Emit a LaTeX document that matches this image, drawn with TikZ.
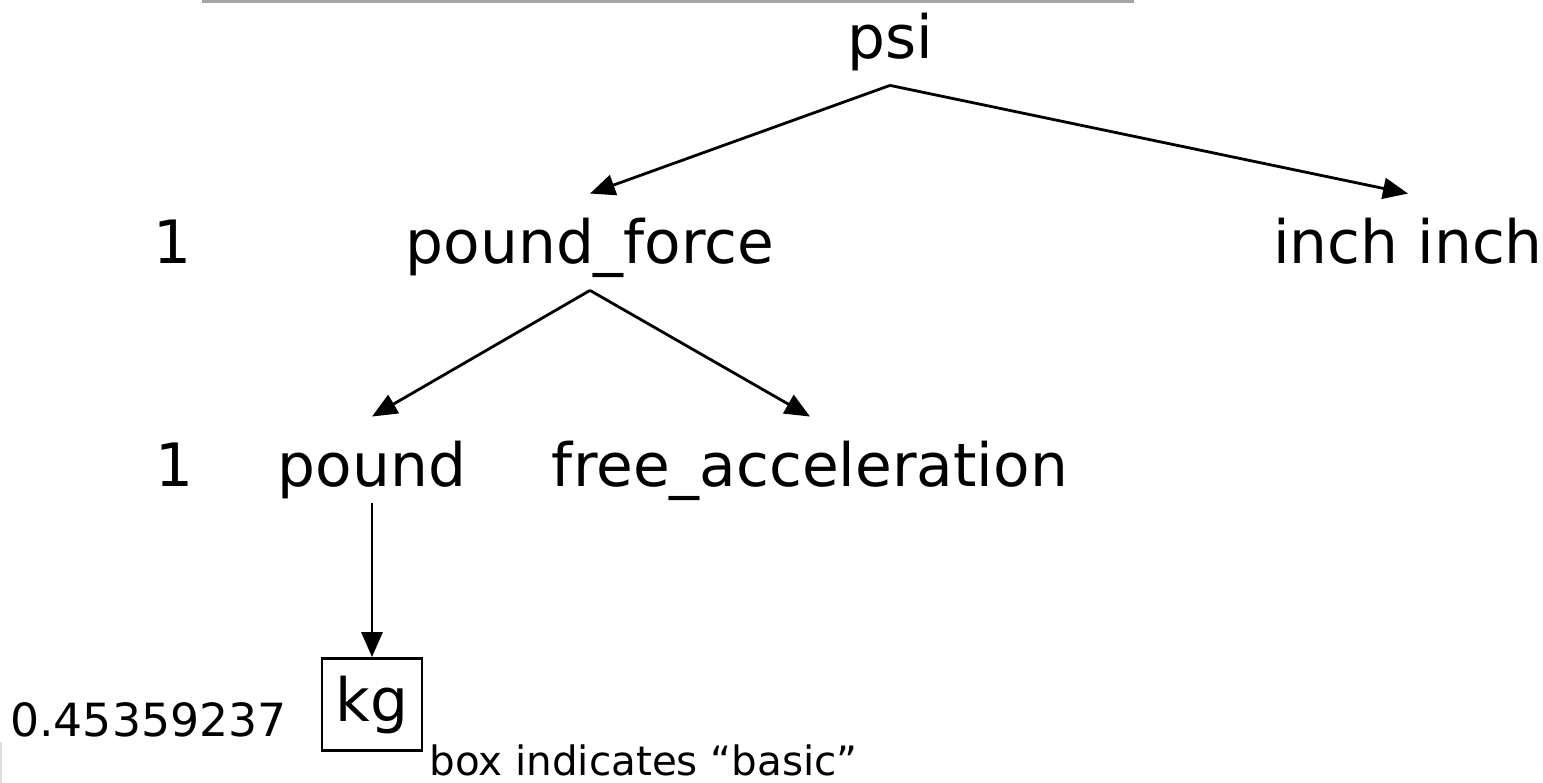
\documentclass[tikz,border=0pt]{standalone}
\usepackage{fontspec}
\setmainfont{DejaVu Sans}
\usetikzlibrary{arrows.meta, positioning}

\begin{document}
\begin{tikzpicture}[x=0.01cm, y=-0.01cm, >={Triangle[length=0.25cm, width=0.21cm]},
unit/.style={inner sep=0pt, anchor=base, text height=0.69cm, text depth=0.25cm,
  font=\fontsize{17}{20}\selectfont},
%
factor/.style={inner sep=0pt, anchor=base, font=\fontsize{17}{20}\selectfont},
%
basic/.style={draw=black, inner sep=0pt, minimum width=1cm,
  minimum height=0.92cm, font=\fontsize{17}{20}\selectfont},
%
note/.style={inner sep=0pt, font=\fontsize{11.5}{14}\selectfont}]

\tikzset{every path/.style={line width=.8pt}}

\useasboundingbox (0,0) rectangle (1543,783);

\begin{scope}
  %%%%%%%%%%%%%%%%%%%%%%%%%%%%%%
  \node [unit] (psi) at (890,59) {psi};
  %%%%%%%%%%%%%%%%%%%%%%%%%%%%%%
  \node [factor] (one1) at (173,264) {1};
  \node [unit] (lbf) at (590,264) {pound\_force};
  \node [unit] (inch) at (1408,264) {inch inch};
  %%%%%%%%%%%%%%%%%%%%%%%%%%%%%%
  \node [factor] (one2) at (175,487) {1};
  \node [unit] (lb) at (372,487) {pound};
  \node [unit] (g0) at (810,487) {free\_acceleration};
  %%%%%%%%%%%%%%%%%%%%%%%%%%%%%%
  \node [basic, below=1.7cm of lb.base, anchor=north] (kg) {kg};
  \node [note, anchor=base east, font=\fontsize{13}{16}\selectfont] (factor3)
    at (288,736) {0.45359237};
  \node [note, anchor=base west] (legend) at (428,775) {box indicates “basic”};
\end{scope}

\begin{scope}
  \draw [gray!70, line width=1pt] (202,1) -- (1134,1);
  \draw [gray!25] (1,742) -- (1,783);
  %%%%%%%%%%%%%%%%%%%%%%%%%%%%%%
  \draw [->] (psi.south) -- (lbf.north);
  \draw [->] (psi.south) -- (inch.north);
  \draw [->] (lbf.south) -- (lb.north);
  \draw [->] (lbf.south) -- (g0.north);
  \draw [->] ([yshift=0.1cm]lb.south) -- (kg.north);
\end{scope}

\end{tikzpicture}
\end{document}
